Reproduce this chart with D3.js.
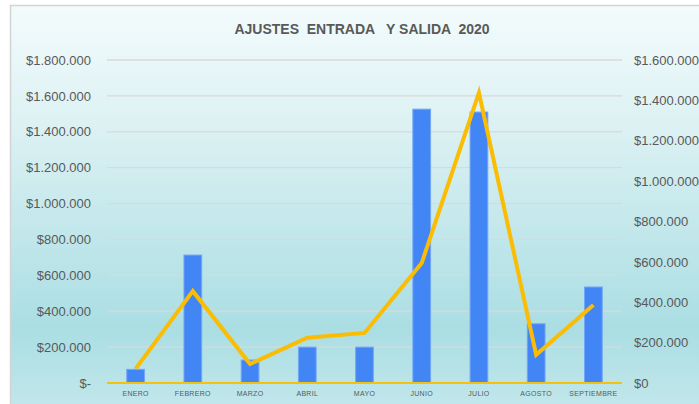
<!DOCTYPE html>
<html>
<head>
<meta charset="utf-8">
<script src="https://cdn.jsdelivr.net/npm/d3@7"></script>
<style>
body { margin: 0; background: #fff; }
svg { display: block; font-family: "Liberation Sans", Arial, sans-serif; }
</style>
</head>
<body>
<svg width="699" height="404"></svg>
<script>
// datos
var meses = ["ENERO", "FEBRERO", "MARZO", "ABRIL", "MAYO", "JUNIO", "JULIO", "AGOSTO", "SEPTIEMBRE"];
var entradas = [76000, 713000, 128000, 200000, 200000, 1526000, 1510000, 330000, 535000];
var salidas = [70000, 455000, 94000, 224000, 248000, 594000, 1438000, 140000, 386000];
var ticksIzq = [0, 200000, 400000, 600000, 800000, 1000000, 1200000, 1400000, 1600000, 1800000];
var ticksDer = [0, 200000, 400000, 600000, 800000, 1000000, 1200000, 1400000, 1600000];
var titulo = "AJUSTES  ENTRADA   Y SALIDA  2020";

var svg = d3.select("svg"),
    width = +svg.attr("width"),
    height = +svg.attr("height");

var margin = {top: 60, left: 107, right: 77, bottom: 21};
var x0 = margin.left, x1 = width - margin.right;
var y0 = height - margin.bottom, y1 = margin.top;

var defs = svg.append("defs");
var grad = defs.append("linearGradient")
    .attr("id", "fondo").attr("x1", 0).attr("y1", 0).attr("x2", 0).attr("y2", 1);
grad.append("stop").attr("offset", "0%").attr("stop-color", "#f3fbfc");
grad.append("stop").attr("offset", "30%").attr("stop-color", "#dcf1f3");
grad.append("stop").attr("offset", "80%").attr("stop-color", "#aadee3");
grad.append("stop").attr("offset", "100%").attr("stop-color", "#c2e7eb");

svg.append("rect")
    .attr("x", 10.5).attr("y", 5.5)
    .attr("width", width).attr("height", height)
    .attr("fill", "url(#fondo)")
    .attr("stroke", "#d4d4d4")
    .attr("stroke-width", 1.5);

var x = d3.scaleBand().domain(meses).range([x0, x1]).paddingInner(0.69).paddingOuter(0.345);
var xl = d3.scaleBand().domain(meses).range([x0, x1]);
var yL = d3.scaleLinear().domain([0, 1800000]).range([y0, y1]);
var yR = d3.scaleLinear().domain([0, 1600000]).range([y0, y1]);

function fmt(v) {
    if (v === 0) return "$-";
    return "$" + d3.format(",")(v).replace(/,/g, ".");
}
function fmtR(v) {
    if (v === 0) return "$0";
    return "$" + d3.format(",")(v).replace(/,/g, ".");
}

// lineas de division
svg.append("g")
    .selectAll("line")
    .data(ticksIzq.slice(1))
    .enter().append("line")
    .attr("x1", x0).attr("x2", x1)
    .attr("y1", function(d) { return yL(d); })
    .attr("y2", function(d) { return yL(d); })
    .attr("stroke", "#d9d9d9")
    .attr("stroke-width", 1.3);

// eje izquierdo
var ejeIzq = svg.append("g")
    .attr("transform", "translate(" + x0 + ",0)")
    .call(d3.axisLeft(yL).tickValues(ticksIzq).tickFormat(fmt).tickSize(0).tickPadding(16));
ejeIzq.select(".domain").remove();
ejeIzq.selectAll("text").attr("fill", "#595959").attr("font-size", "13px")
    .attr("font-family", "Liberation Sans, Arial, sans-serif");

// eje derecho
var ejeDer = svg.append("g")
    .attr("transform", "translate(" + x1 + ",0)")
    .call(d3.axisRight(yR).tickValues(ticksDer).tickFormat(fmtR).tickSize(0).tickPadding(12));
ejeDer.select(".domain").remove();
ejeDer.selectAll("text").attr("fill", "#595959").attr("font-size", "13px")
    .attr("font-family", "Liberation Sans, Arial, sans-serif");

// barras
svg.append("g")
    .selectAll("rect")
    .data(entradas)
    .enter().append("rect")
    .attr("x", function(d, i) { return x(meses[i]); })
    .attr("width", x.bandwidth())
    .attr("y", function(d) { return yL(d); })
    .attr("height", function(d) { return y0 - yL(d); })
    .attr("fill", "#4285f4")
    .attr("stroke", "#74a6f6")
    .attr("stroke-width", 1);

// linea base
svg.append("line")
    .attr("x1", x0).attr("x2", x1)
    .attr("y1", y0).attr("y2", y0)
    .attr("stroke", "#f4c20d")
    .attr("stroke-width", 2);

// linea de salidas
var linea = d3.line()
    .x(function(d, i) { return xl(meses[i]) + xl.bandwidth() / 2; })
    .y(function(d) { return yR(d); });

svg.append("path")
    .datum(salidas)
    .attr("d", linea)
    .attr("fill", "none")
    .attr("stroke", "#fbbc04")
    .attr("stroke-width", 4)
    .attr("stroke-linejoin", "miter");

// etiquetas de categorias
svg.append("g")
    .selectAll("text")
    .data(meses)
    .enter().append("text")
    .attr("x", function(d) { return xl(d) + xl.bandwidth() / 2; })
    .attr("y", y0 + 13)
    .attr("text-anchor", "middle")
    .attr("font-size", "7px")
    .attr("letter-spacing", "0.3px")
    .attr("fill", "#595959")
    .text(function(d) { return d; });

// titulo
svg.append("text")
    .attr("x", 362)
    .attr("y", 34)
    .attr("text-anchor", "middle")
    .attr("font-size", "14px")
    .attr("font-weight", "bold")
    .attr("fill", "#595959")
    .style("white-space", "pre")
    .text(titulo);
</script>
</body>
</html>
